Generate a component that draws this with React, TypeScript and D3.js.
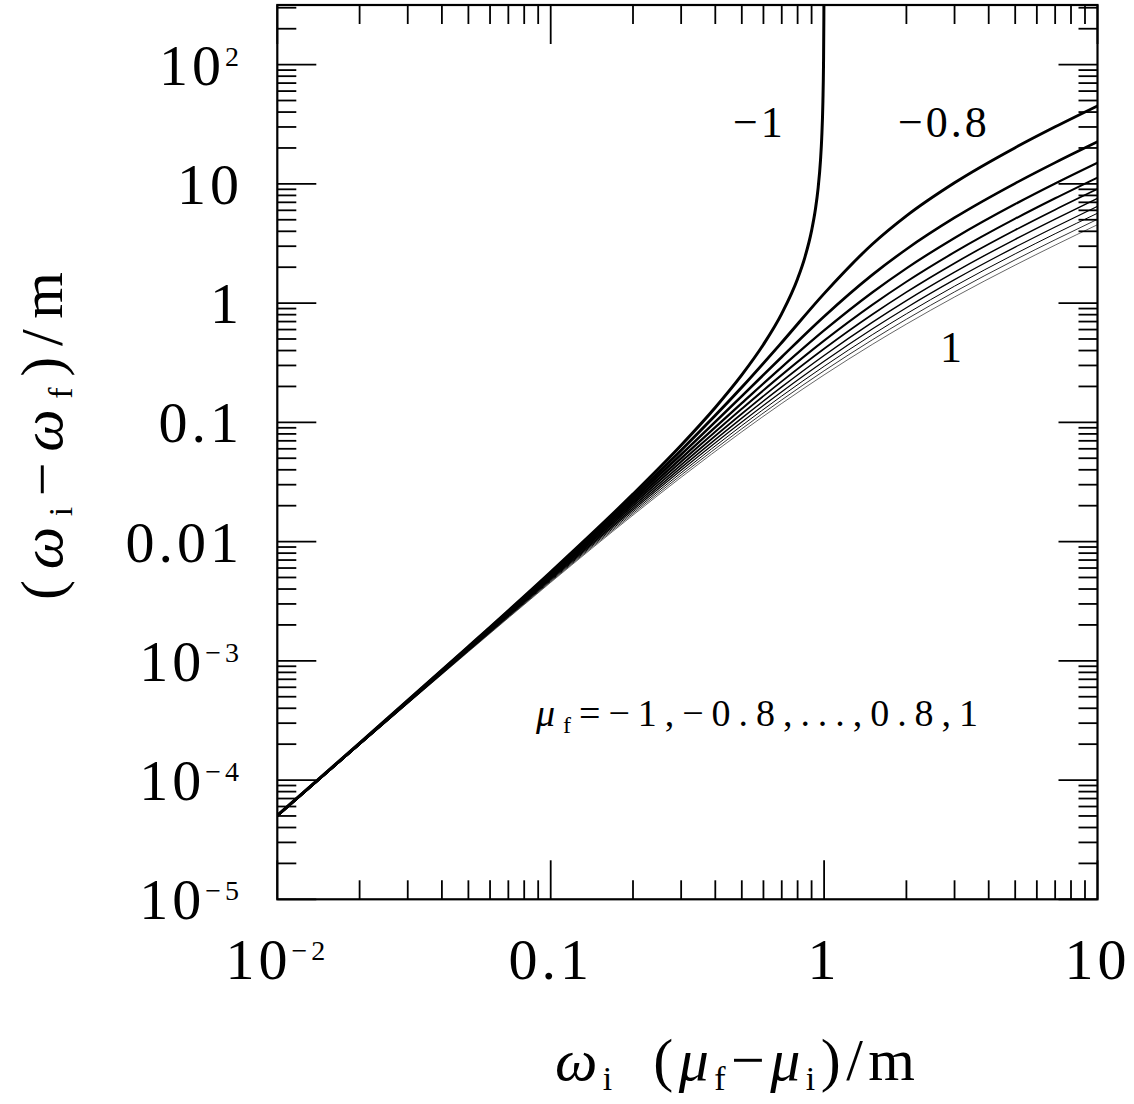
import * as d3 from 'd3';
import React from 'react';

// one curve per final cosine mu_f
const muValues = [-1, -0.8, -0.6, -0.4, -0.2, 0, 0.2, 0.4, 0.6, 0.8, 1];

// sample points along omega_i (mu_f - mu_i)/m
const xGrid = [0.01, 0.02, 0.05, 0.1, 0.2, 0.3, 0.5, 0.7, 1, 1.5, 2, 3, 5, 7, 10];
// mu_f = -1 blows up at 1, so it is sampled more densely there
const xGridEdge = [
  0.01, 0.02, 0.05, 0.1, 0.2, 0.3, 0.4, 0.5, 0.6, 0.7, 0.8, 0.85, 0.9, 0.93,
  0.95, 0.97, 0.98, 0.99, 0.995, 0.998, 0.999,
];

// (omega_i - omega_f)/m
const yMuM10 = [
  5.05e-5, 2.041e-4, 1.316e-3, 5.556e-3, 0.025, 0.0643, 0.1333, 0.25, 0.45,
  0.8167, 1.6, 2.408, 4.05, 6.178, 9.025, 15.68, 24.01, 49.0, 99.0, 249.0, 499.0,
];
const yMuM08 = [5.04e-5, 2.032e-4, 1.302e-3, 5.429e-3, 0.02369, 0.0584, 0.1967, 0.4674, 1.201, 3.117, 5.393, 10.22, 20.12, 30.08, 45.06];
const yMuM06 = [5.03e-5, 2.024e-4, 1.288e-3, 5.31e-3, 0.02254, 0.05375, 0.166, 0.3535, 0.7726, 1.725, 2.832, 5.203, 10.11, 15.08, 22.55];
const yMuM04 = [5.02e-5, 2.016e-4, 1.275e-3, 5.197e-3, 0.02153, 0.04995, 0.1452, 0.2909, 0.5898, 1.228, 1.957, 3.52, 6.774, 10.08, 15.05];
const yMuM02 = [5.01e-5, 2.008e-4, 1.262e-3, 5.089e-3, 0.02062, 0.04676, 0.1299, 0.25, 0.4843, 0.9666, 1.51, 2.673, 5.103, 7.573, 11.3];
const yMu00 = [5.0e-5, 2.0e-4, 1.249e-3, 4.988e-3, 0.0198, 0.04403, 0.118, 0.2207, 0.4142, 0.8028, 1.236, 2.162, 4.099, 6.071, 9.05];
const yMuP02 = [4.99e-5, 1.992e-4, 1.237e-3, 4.891e-3, 0.01906, 0.04167, 0.1085, 0.1983, 0.3637, 0.6897, 1.05, 1.819, 3.429, 5.069, 7.549];
const yMuP04 = [4.98e-5, 1.984e-4, 1.225e-3, 4.798e-3, 0.01839, 0.03959, 0.1006, 0.1807, 0.3254, 0.6066, 0.9155, 1.573, 2.949, 4.353, 6.477];
const yMuP06 = [4.97e-5, 1.976e-4, 1.213e-3, 4.71e-3, 0.01777, 0.03775, 0.09398, 0.1663, 0.2951, 0.5425, 0.813, 1.387, 2.589, 3.816, 5.672];
const yMuP08 = [4.96e-5, 1.968e-4, 1.202e-3, 4.626e-3, 0.0172, 0.0361, 0.08828, 0.1543, 0.2705, 0.4916, 0.7321, 1.242, 2.308, 3.397, 5.046];
const yMuP10 = [4.95e-5, 1.961e-4, 1.19e-3, 4.545e-3, 0.01667, 0.03462, 0.08333, 0.1441, 0.25, 0.45, 0.6667, 1.125, 2.083, 3.063, 4.545];

const seriesY = [yMuM10, yMuM08, yMuM06, yMuM04, yMuM02, yMu00, yMuP02, yMuP04, yMuP06, yMuP08, yMuP10];

// tick labels: [mantissa, exponent]
const xTickValues = [0.01, 0.1, 1, 10];
const xTickText: [string, string][] = [['10', '\u22122'], ['0.1', ''], ['1', ''], ['10', '']];
const yTickValues = [1e-5, 1e-4, 1e-3, 0.01, 0.1, 1, 10, 100];
const yTickText: [string, string][] = [
  ['10', '\u22125'], ['10', '\u22124'], ['10', '\u22123'], ['0.01', ''],
  ['0.1', ''], ['1', ''], ['10', ''], ['10', '2'],
];

// styles
const lineWidths = [3, 2.9, 2.6, 2.3, 2.0, 1.7, 1.45, 1.2, 1.0, 0.8, 0.6];
const font = '"Liberation Serif", "DejaVu Serif", serif';

const W = 1134;
const H = 1104;
const plot = { left: 277.3, right: 1097.5, top: 5, bottom: 899.3 };

const xScale = d3.scaleLog().domain([0.01, 10]).range([plot.left, plot.right]);
const yScale = d3.scaleLog().domain([1e-5, Math.pow(10, 2.5)]).range([plot.bottom, plot.top]);

const majorLen = 39;
const minorLen = 19;

function logTicks(scale: d3.ScaleLogarithmic<number, number>) {
  const [lo, hi] = scale.domain();
  const out: { v: number; major: boolean }[] = [];
  for (let k = Math.floor(Math.log10(lo)); k <= Math.ceil(Math.log10(hi)); k++) {
    for (let j = 1; j <= 9; j++) {
      const v = j * Math.pow(10, k);
      if (v < lo * 0.999 || v > hi * 1.001) continue;
      out.push({ v, major: j === 1 });
    }
  }
  return out;
}

const App = () => {
  const line = d3
    .line<[number, number]>()
    .x(d => xScale(d[0]))
    .y(d => yScale(d[1]))
    .curve(d3.curveMonotoneX);

  const curves = muValues.map((mu, i) => {
    const xs = i === 0 ? xGridEdge : xGrid;
    const pts = xs.map((x, j) => [x, seriesY[i][j]] as [number, number]);
    return { mu, d: line(pts) as string, w: lineWidths[i] };
  });

  const xt = logTicks(xScale);
  const yt = logTicks(yScale);

  return (
    <svg
      width={W}
      height={H}
      style={{ position: 'absolute', left: 0, top: 0, background: '#fff' }}
      fontFamily={font}
    >
      <defs>
        <clipPath id="plotClip">
          <rect x={plot.left} y={plot.top} width={plot.right - plot.left} height={plot.bottom - plot.top} />
        </clipPath>
      </defs>

      <g clipPath="url(#plotClip)">
        {curves.map(c => (
          <path key={c.mu} d={c.d} fill="none" stroke="#000" strokeWidth={c.w} strokeLinejoin="round" />
        ))}
      </g>

      {/* ticks on all four sides */}
      <g stroke="#000" strokeWidth={1.8}>
        {xt.map(t => {
          const x = xScale(t.v);
          const l = t.major ? majorLen : minorLen;
          return (
            <g key={'x' + t.v}>
              <line x1={x} x2={x} y1={plot.bottom} y2={plot.bottom - l} />
              <line x1={x} x2={x} y1={plot.top} y2={plot.top + l} />
            </g>
          );
        })}
        {yt.map(t => {
          const y = yScale(t.v);
          const l = t.major ? majorLen : minorLen;
          return (
            <g key={'y' + t.v}>
              <line x1={plot.left} x2={plot.left + l} y1={y} y2={y} />
              <line x1={plot.right} x2={plot.right - l} y1={y} y2={y} />
            </g>
          );
        })}
      </g>
      <rect
        x={plot.left}
        y={plot.top}
        width={plot.right - plot.left}
        height={plot.bottom - plot.top}
        fill="none"
        stroke="#000"
        strokeWidth={2.2}
      />

      {/* tick labels */}
      <g fontSize={58} fill="#000">
        {xTickValues.map((v, i) => (
          <text key={'xl' + v} x={xScale(v)} y={979} textAnchor="middle" letterSpacing={4}>
            {xTickText[i][0]}
            {xTickText[i][1] && (
              <tspan fontSize={28} dy={-19}>
                {xTickText[i][1]}
              </tspan>
            )}
          </text>
        ))}
        {yTickValues.map((v, i) => (
          <text key={'yl' + v} x={243} y={yScale(v) + 20} textAnchor="end" letterSpacing={4}>
            {yTickText[i][0]}
            {yTickText[i][1] && (
              <tspan fontSize={28} dy={-19}>
                {yTickText[i][1]}
              </tspan>
            )}
          </text>
        ))}
      </g>

      {/* curve labels */}
      <g fontSize={44} fill="#000" letterSpacing={3}>
        <text x={733} y={137}>{'\u22121'}</text>
        <text x={898} y={137}>{'\u22120.8'}</text>
        <text x={940} y={362}>1</text>
      </g>
      <text x={536} y={726} fontSize={38} textLength={442} lengthAdjust="spacing">
        <tspan fontStyle="italic">{'\u03bc'}</tspan>
        <tspan fontSize={24} dy={7}>f</tspan>
        <tspan dy={-7}>{'=\u22121,\u22120.8,...,0.8,1'}</tspan>
      </text>

      {/* axis titles */}
      <text x={555} y={1080} fontSize={60} textLength={360} lengthAdjust="spacing">
        <tspan fontStyle="italic">{'\u03c9'}</tspan>
        <tspan fontSize={34} dy={10}>i</tspan>
        <tspan dy={-10}>{'\u2002('}</tspan>
        <tspan fontStyle="italic">{'\u03bc'}</tspan>
        <tspan fontSize={34} dy={10}>f</tspan>
        <tspan dy={-10}>{'\u2212'}</tspan>
        <tspan fontStyle="italic">{'\u03bc'}</tspan>
        <tspan fontSize={34} dy={10}>i</tspan>
        <tspan dy={-10}>{')/m'}</tspan>
      </text>
      <text transform="translate(62,600) rotate(-90)" fontSize={60} textLength={328} lengthAdjust="spacing">
        <tspan>(</tspan>
        <tspan fontStyle="italic">{'\u03c9'}</tspan>
        <tspan fontSize={34} dy={10}>i</tspan>
        <tspan dy={-10}>{'\u2212'}</tspan>
        <tspan fontStyle="italic">{'\u03c9'}</tspan>
        <tspan fontSize={34} dy={10}>f</tspan>
        <tspan dy={-10}>{')/m'}</tspan>
      </text>
    </svg>
  );
};

export default App;
